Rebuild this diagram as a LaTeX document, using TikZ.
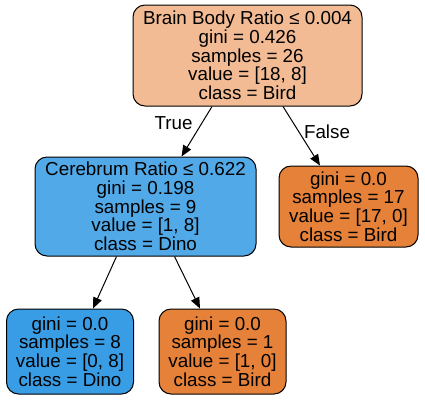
\documentclass[tikz,border=0pt]{standalone}
\usepackage{fontspec}
\setmainfont{Liberation Sans}
\usetikzlibrary{arrows.meta}
\definecolor{rootc}{RGB}{242,187,147}
\definecolor{cerc}{RGB}{82,169,232}
\definecolor{dino}{RGB}{57,157,229}
\definecolor{bird}{RGB}{229,129,57}
\tikzset{
  treenode/.style={draw=black, line width=1pt, rounded corners=12pt, inner sep=0pt,
    align=center, font=\fontsize{18.8pt}{18.7pt}\selectfont, text=black},
  edge/.style={draw=black, line width=1pt, -{Triangle[length=11pt,width=9pt]}},
  edgelabel/.style={font=\fontsize{18.8pt}{18.7pt}\selectfont, inner sep=0pt}
}
\begin{document}
\begin{tikzpicture}[x=1pt,y=-1pt]
\useasboundingbox (0,0) rectangle (425,400);
\node[treenode, fill=rootc, minimum width=229pt, minimum height=101pt] (root) at (247.5,55.5)
  {Brain Body Ratio ≤ 0.004\\gini = 0.426\\samples = 26\\value = [18, 8]\\class = Bird};
\node[treenode, fill=cerc, minimum width=221pt, minimum height=99pt] (cer) at (145.5,206.5)
  {Cerebrum Ratio ≤ 0.622\\gini = 0.198\\samples = 9\\value = [1, 8]\\class = Dino};
\node[treenode, fill=bird, minimum width=139pt, minimum height=81pt] (right) at (348.5,206.5)
  {gini = 0.0\\samples = 17\\value = [17, 0]\\class = Bird};
\node[treenode, fill=dino, minimum width=127pt, minimum height=85pt] (leafa) at (70,351.5)
  {gini = 0.0\\samples = 8\\value = [0, 8]\\class = Dino};
\node[treenode, fill=bird, minimum width=127pt, minimum height=85pt] (leafb) at (222.5,351.5)
  {gini = 0.0\\samples = 1\\value = [1, 0]\\class = Bird};
\draw[edge] ([xshift=-35.5pt]root.south) -- ([xshift=36pt]cer.north);
\draw[edge] ([xshift=35.5pt]root.south) -- ([xshift=-28.5pt]right.north);
\draw[edge] ([xshift=-29pt]cer.south) -- ([xshift=23pt]leafa.north);
\draw[edge] ([xshift=29pt]cer.south) -- ([xshift=-22.5pt]leafb.north);
\node[edgelabel] (tlabel) at (173.5,123) {True};
\node[edgelabel] (flabel) at (327,132) {False};
\end{tikzpicture}
\end{document}
